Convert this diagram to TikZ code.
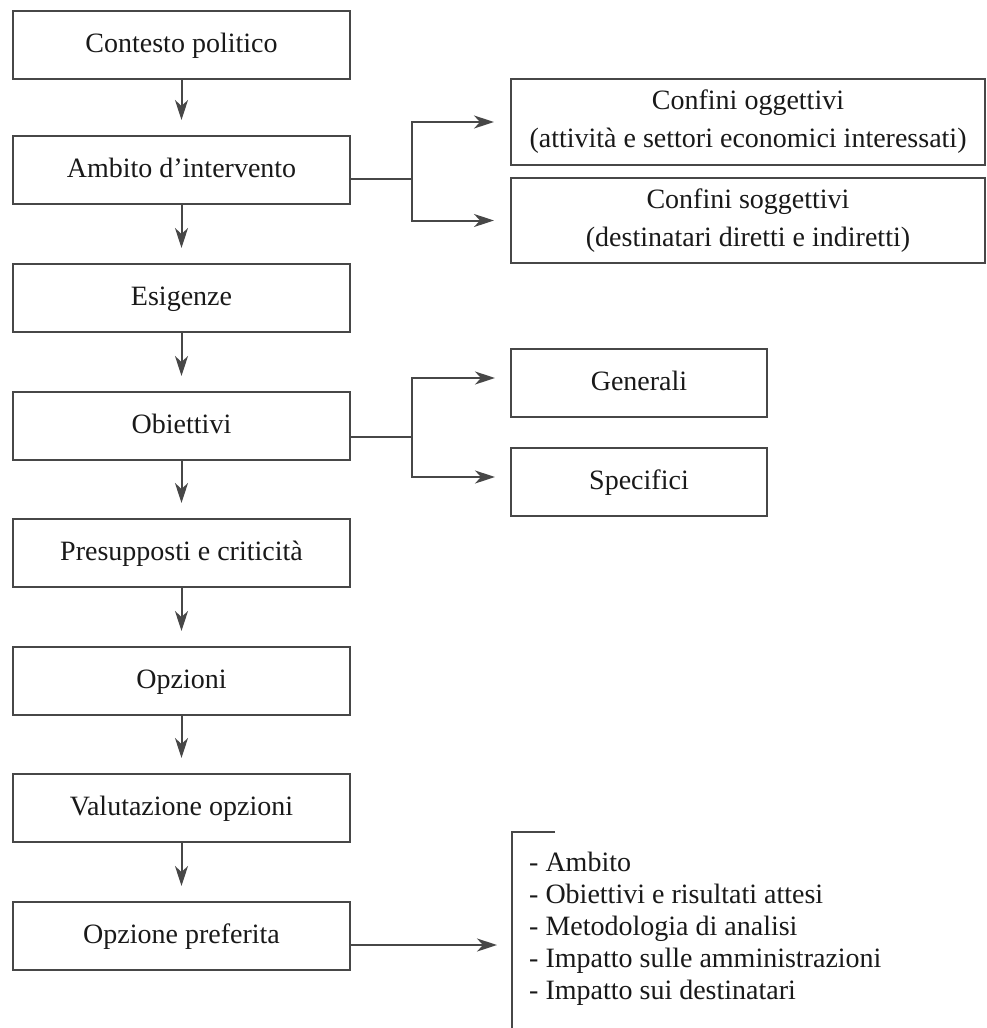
\documentclass[tikz,border=0pt]{standalone}
\usepackage{fontspec}
\setmainfont{Liberation Serif}
\usetikzlibrary{arrows.meta}
\begin{document}
\begin{tikzpicture}[x=1pt,y=-1pt,
  lw/.style={line width=2pt,draw=black!72},
  lbox/.style={lw,rectangle,minimum width=337pt,minimum height=68pt,inner sep=0pt,
    text height=20pt,text depth=6pt,font=\fontsize{28}{38}\selectfont,text=black!90},
  rbox/.style={lw,rectangle,inner sep=0pt,font=\fontsize{28}{38}\selectfont,text=black!90,align=center},
  arr/.style={lw,-{Stealth[length=20pt,width=13pt,inset=6pt]}},
  varr/.style={arr,shorten >=15pt}
]
\useasboundingbox (0,0) rectangle (987,1028);
\fill[white] (0,0) rectangle (987,1028);

% left column
\node[lbox] (b1) at (181.5,45) {Contesto politico};
\node[lbox] (b2) at (181.5,170) {Ambito d'intervento};
\node[lbox] (b3) at (181.5,298) {Esigenze};
\node[lbox] (b4) at (181.5,426) {Obiettivi};
\node[lbox] (b5) at (181.5,553) {Presupposti e criticità};
\node[lbox] (b6) at (181.5,681) {Opzioni};
\node[lbox] (b7) at (181.5,808) {Valutazione opzioni};
\node[lbox] (b8) at (181.5,936) {Opzione preferita};

\foreach \a/\b in {b1/b2,b2/b3,b3/b4,b4/b5,b5/b6,b6/b7,b7/b8}
  \draw[varr] (\a.south) -- (\b.north);

% right boxes
\node[rbox,minimum width=474pt,minimum height=86pt] (co) at (748,122)
  {Confini oggettivi\\(attività e settori economici interessati)};
\node[rbox,minimum width=474pt,minimum height=85pt] (cs) at (748,220.5)
  {Confini soggettivi\\(destinatari diretti e indiretti)};
\node[rbox,minimum width=256pt,minimum height=68pt,text height=20pt,text depth=6pt] (ge) at (639,383) {Generali};
\node[rbox,minimum width=256pt,minimum height=68pt,text height=20pt,text depth=6pt] (sp) at (639,482) {Specifici};

% branch from Ambito
\coordinate (j1) at (412,179);
\draw[lw] (b2.east |- j1) -- (j1);
\draw[arr,shorten >=16pt] (j1) |- (co.west);
\draw[arr,shorten >=16pt] (j1) |- (cs.west);

% branch from Obiettivi
\coordinate (j2) at (412,437);
\coordinate (ga) at (511,378);
\coordinate (sa) at (511,477);
\draw[lw] (b4.east |- j2) -- (j2);
\draw[arr,shorten >=16pt] (j2) |- (ga);
\draw[arr,shorten >=16pt] (j2) |- (sa);

% bracket list
\coordinate (bt) at (512,832);
\coordinate (bh) at (555,832);
\coordinate (bb) at (512,1030);
\draw[lw] (bh) -- (bt) -- (bb);
\coordinate (pa) at (512,945);
\draw[arr,shorten >=15pt] (b8.east |- pa) -- (pa);
\node[anchor=west,align=left,inner sep=0pt,font=\fontsize{28}{32}\selectfont,text=black!90] (lst) at (529,929)
  {- Ambito\\- Obiettivi e risultati attesi\\- Metodologia di analisi\\- Impatto sulle amministrazioni\\- Impatto sui destinatari};
\end{tikzpicture}
\end{document}
